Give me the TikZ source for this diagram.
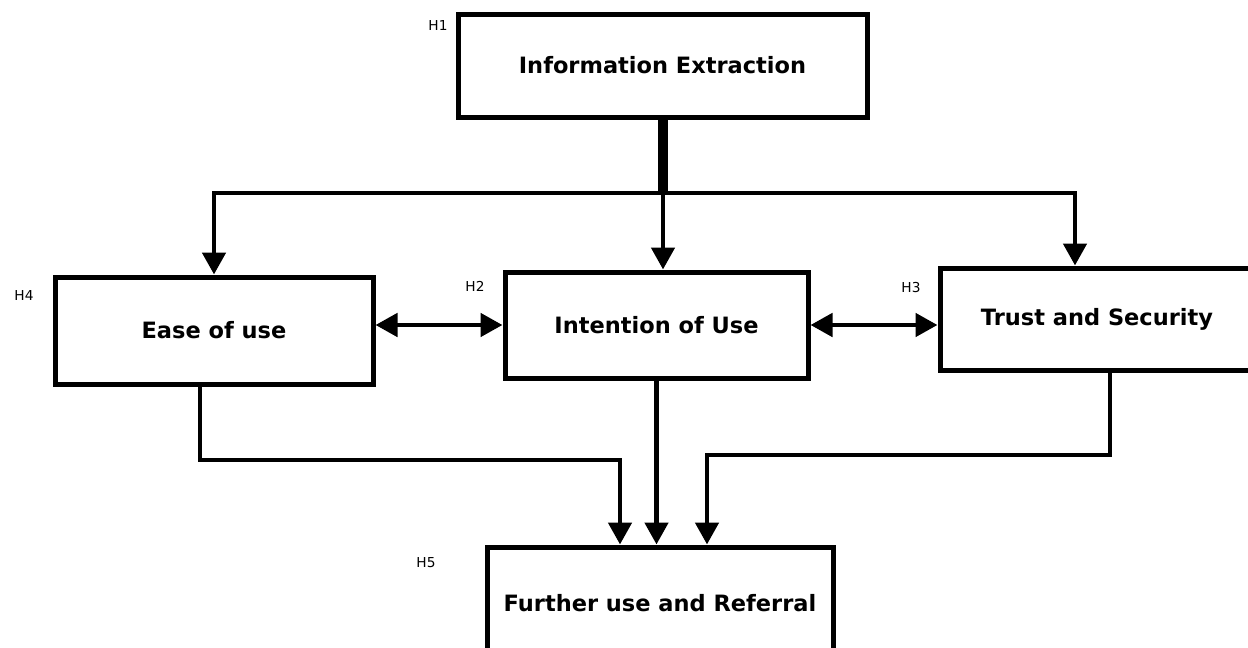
\documentclass[tikz,border=0pt]{standalone}
\usepackage{fontspec}
\setmainfont{DejaVu Sans}
\usetikzlibrary{positioning,arrows.meta,calc}
\tikzset{
  box/.style  ={draw=black, line width=1mm, fill=white, align=center, inner sep=0pt, font=\fontsize{12.8}{15}\selectfont\bfseries},
  hyp/.style  ={font=\fontsize{7.8}{9}\selectfont, inner sep=0pt},
  ln/.style   ={draw=black, line width=.95mm, -{Triangle[length=4.4mm,width=4.6mm]}},
  lnb/.style  ={draw=black, line width=.95mm, {Triangle[length=4.4mm,width=4.6mm]}-{Triangle[length=4.4mm,width=4.6mm]}},
  stem/.style ={draw=black, line width=2mm},
}

\begin{document}
\begin{tikzpicture}
    \useasboundingbox (0,0) rectangle (24.96,-12.96);

    \node[box,minimum width=8.18cm,minimum height=2.06cm] (ie) at (13.25,-1.31)
      {Information Extraction};
    \node[box,minimum width=6.36cm,minimum height=2.14cm] (ease) at (4.28,-6.61)
      {Ease of use};
    \node[box,minimum width=6.06cm,minimum height=2.12cm] (intent) at (13.13,-6.50)
      {Intention of Use};
    \node[box,minimum width=6.28cm,minimum height=2.04cm] (trust) at (21.94,-6.38)
      {Trust and Security};
    \node[box,minimum width=6.92cm,minimum height=2.26cm] (fur) at (13.20,-12.07)
      {Further use and Referral};

    \node[hyp] (h1) at (8.76,-0.52) {H1};
    \node[hyp] (h4) at (0.48,-5.92) {H4};
    \node[hyp] (h2) at (9.50,-5.72) {H2};
    \node[hyp] (h3) at (18.22,-5.76) {H3};
    \node[hyp] (h5) at (8.52,-11.26) {H5};

    \coordinate (split) at (13.26,-3.86);
    \coordinate (lbend) at (12.40,-9.20);
    \coordinate (rbend) at (14.14,-9.10);

    \draw[stem] (ie.south -| split) -- (split);
    \draw[ln] (split) -| (ease.north);
    \draw[ln] (split) -- (split |- intent.north);
    \draw[ln] (split) -| ([xshift=-4.4mm]trust.north);

    \draw[lnb] (ease.east |- intent.west) -- (intent.west);
    \draw[lnb] (intent.east) -- (intent.east -| trust.west);

    \draw[ln] ([xshift=-2.8mm]ease.south) |- (lbend) -- (lbend |- fur.north);
    \draw[ln] (intent.south) -- (intent.south |- fur.north);
    \draw[ln] ([xshift=2.6mm]trust.south) |- (rbend) -- (rbend |- fur.north);
  \end{tikzpicture}
\end{document}
